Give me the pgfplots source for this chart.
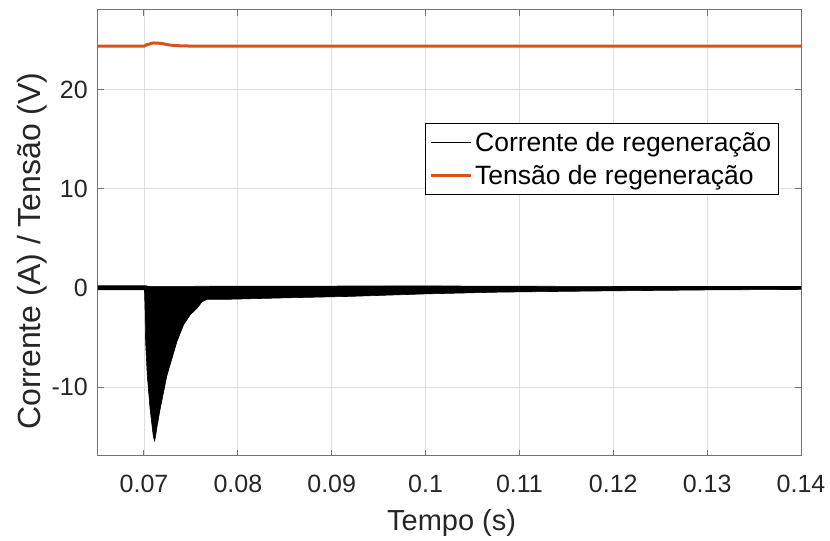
\documentclass[border=0pt]{standalone}
\usepackage{pgfplots}
\pgfplotsset{compat=1.18}
\usepackage{fontspec}
\setmainfont{Liberation Sans}
\definecolor{morange}{rgb}{0.85,0.325,0.098}
\definecolor{mtext}{rgb}{0.15,0.15,0.15}
\definecolor{mgrid}{rgb}{0.875,0.875,0.875}
\definecolor{maxis}{rgb}{0.45,0.45,0.45}
\begin{document}
\begin{tikzpicture}
\useasboundingbox (-98bp,-85.3bp) rectangle (732bp,455.7bp);
\begin{axis}[
  at={(0,0)}, anchor=south west,
  scale only axis, width=703bp, height=445.7bp,
  xmin=0.0651, xmax=0.14, ymin=-16.9, ymax=28,
  scaled x ticks=false, scaled y ticks=false,
  xtick={0.07,0.08,0.09,0.1,0.11,0.12,0.13,0.14},
  xticklabels={0.07,0.08,0.09,0.1,0.11,0.12,0.13,0.14},
  ytick={-10,0,10,20},
  yticklabels={-10,0,10,20},
  /pgf/number format/assume math mode=true,
  grid=major,
  major grid style={mgrid, line width=0.8bp},
  tick align=inside,
  major tick length=6bp,
  every tick/.style={maxis, line width=1bp},
  axis line style={maxis, line width=1bp},
  tick label style={font=\fontsize{25bp}{30bp}\selectfont, text=mtext},
  xticklabel style={anchor=north, inner sep=0pt, yshift=-19bp},
  yticklabel style={anchor=east, inner sep=0pt, xshift=-10bp},
  xlabel={Tempo (s)},
  ylabel={Corrente (A) / Tensão (V)},
  xlabel style={at={(axis description cs:0.503,-0.151)}, anchor=center, font=\fontsize{29bp}{34bp}\selectfont, text=mtext},
  ylabel style={at={(axis description cs:-0.0939,0.459)}, anchor=center, font=\fontsize{32bp}{38bp}\selectfont, text=mtext},
  legend style={at={(0.465,0.7465)}, anchor=north west, draw=black, line width=0.8bp,
    font=\fontsize{26.5bp}{31bp}\selectfont, text=black, inner xsep=4.3bp, inner ysep=2.5bp,
    nodes={inner ysep=6.2bp, inner xsep=2.6bp}},
  legend cell align=left,
  legend image code/.code={\draw[#1] (0bp,0bp) -- (40bp,0bp);},
]
% current: filled envelope (upper edge, then lower edge back)
\addplot[black, fill=black, line width=0.6bp, forget plot] coordinates {
(0.0651,0.22) (0.0702,0.22) (0.0705,0.15) (0.080,0.18) (0.100,0.2) (0.120,0.15) (0.14,0.15)
(0.14,-0.15) (0.130,-0.2) (0.119,-0.3) (0.108,-0.42) (0.100,-0.6) (0.092,-0.85)
(0.085,-1.0) (0.0787,-1.15) (0.07671,-1.15) (0.07618,-1.4) (0.07564,-2.05)
(0.07493,-2.7) (0.07422,-3.7) (0.07351,-5.4) (0.07245,-8.8) (0.07174,-12.1)
(0.07142,-13.8) (0.07122,-15.0) (0.07113,-15.4) (0.07100,-15.0) (0.07085,-13.8) (0.07064,-12.1)
(0.07035,-8.8) (0.07017,-5.4) (0.07011,-2.05) (0.07005,-0.2) (0.0651,-0.2)
} -- cycle;
% voltage
\addplot[morange, line width=3bp, forget plot] coordinates {
(0.0651,24.36) (0.0700,24.36) (0.0703,24.5) (0.0710,24.68) (0.0718,24.64)
(0.0728,24.46) (0.0740,24.38) (0.0760,24.36) (0.14,24.36)
};
\addlegendimage{black, line width=1.3bp}
\addlegendentry{Corrente de regeneração}
\addlegendimage{morange, line width=3bp}
\addlegendentry{Tensão de regeneração}
\end{axis}
\end{tikzpicture}
\end{document}
